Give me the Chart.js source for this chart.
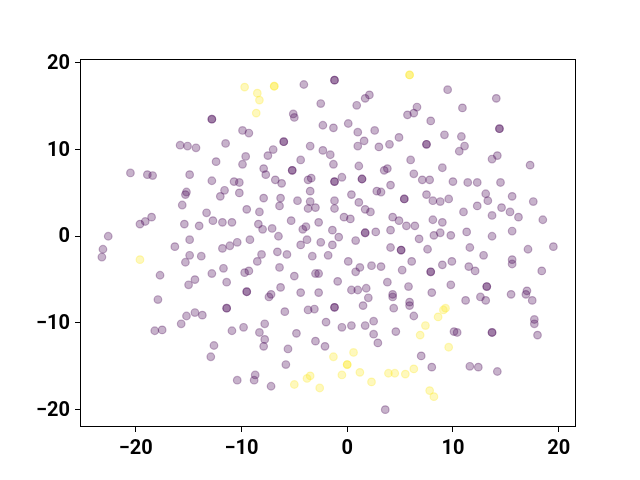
<!DOCTYPE html>
<html>
<head>
<meta charset="utf-8">
<script src="https://cdn.jsdelivr.net/npm/chart.js@4/dist/chart.umd.min.js"></script>
<style>
  html, body { margin: 0; padding: 0; background: #ffffff; }
  #c { display: block; }
</style>
</head>
<body>
<canvas id="c" width="640" height="480"></canvas>
<script>
// ---- data ----
const xTickValues = [-20, -10, 0, 10, 20];
const yTickValues = [-20, -10, 0, 10, 20];

const purplePoints = [
  [-12.8,13.5],[-12.8,13.5],[-9.9,12.2],[-9.3,11.9],[-11.5,10.7],[-15.8,10.5],[-15.1,10.4],[-14.3,10.2],
  [-9.6,9.2],[-12.4,8.6],[-9.9,8.3],[-20.5,7.3],[-18.9,7.1],[-18.4,7.0],[-14.9,7.1],[-12.8,6.4],[-10.7,6.3],[-10.2,6.2],
  [-4.1,17.5],[-1.2,18.0],[-1.2,18.0],[-2.5,15.3],[0.9,15.1],[1.7,15.9],[2.1,16.3],[-5.1,14.1],[-5.0,13.7],
  [5.7,14.0],[6.3,14.2],[-2.3,12.8],[-1.3,12.5],[0.1,13.0],[1.0,12.0],[2.6,12.2],[-6.0,10.9],[-6.0,10.9],
  [1.6,11.0],[1.0,10.4],[3.0,10.3],[4.0,10.6],[4.9,11.4],[-7.0,10.0],[-7.5,9.3],[-3.5,10.4],[-2.3,9.9],
  [-1.6,9.4],[-4.4,8.8],[-1.3,8.3],[6.0,8.8],[-7.9,7.8],[-7.7,7.1],[-5.2,7.6],[-5.2,7.6],[1.1,8.1],[3.5,7.6],
  [3.8,7.8],[6.3,7.2],[-6.8,6.5],[-3.7,6.5],[-3.4,6.7],[-1.2,6.3],[-1.2,6.3],[-0.5,6.8],[1.4,6.6],[1.4,6.6],
  [4.1,5.9],[-6.2,6.1],
  [9.5,16.9],[14.1,15.9],[6.6,14.9],[10.9,14.8],[7.9,13.3],[14.4,12.4],[14.4,12.4],[7.5,10.6],[7.5,10.6],
  [9.2,11.7],[10.8,11.5],[11.1,10.4],[10.6,9.8],[13.7,8.9],[14.2,9.3],[17.3,8.2],[9.0,7.9],[7.1,6.5],[7.8,6.5],
  [10.0,6.3],[11.4,6.2],[12.3,6.2],[14.5,6.2],
  [-15.2,5.1],[-15.3,4.8],[-11.6,5.3],[-12.0,4.6],[-10.2,5.0],[-15.6,3.6],[-9.5,3.1],[-13.3,2.7],[-18.5,2.2],
  [-19.1,1.7],[-19.6,1.4],[-15.4,1.4],[-14.0,1.2],[-12.7,1.8],[-11.8,1.6],[-10.9,1.6],[-22.6,0.0],[-23.1,-1.5],
  [-23.2,-2.4],[-14.9,-0.4],[-16.3,-1.2],[-14.9,-2.2],[-15.3,-3.0],[-13.8,-2.3],[-11.8,-1.4],[-11.1,-1.1],
  [-10.4,-0.7],[-9.2,-0.4],[-11.7,-3.7],[-12.8,-4.3],[-11.4,-5.3],[-9.7,-4.2],[-9.3,-4.0],[-17.7,-4.5],
  [-14.4,-5.0],[-15.0,-5.6],[-9.5,-6.4],[-9.5,-6.4],[-17.9,-7.3],
  [-3.5,5.2],[0.4,4.8],[2.8,5.2],[3.2,5.1],[5.4,4.3],[5.4,4.3],[-7.9,4.4],[-6.3,4.4],[-6.4,3.5],[-4.7,4.1],
  [-3.5,4.0],[-3.7,3.2],[-3.0,3.3],[-1.2,4.1],[-1.2,3.2],[1.1,3.9],[1.7,3.1],[2.2,2.8],[-8.3,2.8],[-8.4,1.4],
  [-8.0,0.8],[-7.1,0.9],[-5.3,1.8],[-4.2,0.8],[-3.9,1.1],[-2.7,1.6],[-0.3,2.2],[0.3,2.0],[-1.4,0.7],[1.7,0.4],
  [1.7,0.4],[2.7,0.5],[4.3,2.2],[4.9,1.8],[5.6,1.2],[4.1,0.7],[-6.5,0.0],[-3.8,-0.4],[-4.4,-1.0],[-2.5,-0.7],
  [-0.8,-0.1],[-1.4,-1.0],[0.8,-0.5],[5.1,-1.6],[5.1,-1.6],[4.1,-1.3],[-6.6,-1.8],[-5.7,-2.1],[-8.1,-2.1],
  [-8.5,-2.9],[-3.3,-2.3],[-1.8,-2.2],[0.1,-2.9],[1.2,-3.6],[0.8,-4.1],[2.3,-3.4],[3.2,-3.5],[5.2,-3.9],
  [-6.4,-3.6],[-5.0,-4.6],[-3.0,-4.3],[-2.7,-4.3],[-0.9,-5.2],[3.8,-5.3],[5.8,-5.8],[-6.3,-5.9],[-4.4,-6.5],
  [-2.7,-6.5],[0.4,-6.2],[1.0,-6.2],[1.8,-6.0],[2.0,-7.1],[4.3,-6.7],[4.3,-7.0],[-7.2,-6.7],[-7.4,-7.0],[5.9,-7.6],
  [7.5,4.8],[8.1,4.1],[8.8,4.0],[9.6,4.3],[13.1,4.9],[13.3,4.1],[15.6,4.6],[17.6,4.0],[11.0,2.8],[12.3,3.5],
  [14.6,3.3],[15.4,2.8],[16.2,2.2],[13.7,2.4],[18.5,1.9],[6.4,1.2],[8.1,1.9],[9.0,1.6],[8.8,0.4],[8.2,0.1],
  [6.8,-0.3],[9.8,0.1],[11.3,0.5],[13.7,0.0],[15.6,0.6],[7.6,-1.5],[11.6,-1.3],[12.9,-2.2],[17.1,-1.5],
  [19.5,-1.2],[6.1,-2.9],[9.0,-3.3],[9.9,-2.9],[11.5,-3.5],[12.1,-4.0],[15.6,-2.7],[15.6,-3.2],[18.4,-4.0],
  [7.9,-4.1],[7.9,-4.1],[8.0,-6.5],[9.8,-5.6],[13.2,-5.8],[13.2,-5.8],[12.6,-7.0],[13.1,-7.4],[11.2,-7.4],
  [15.5,-6.7],[17.0,-6.3],[16.9,-6.7],[17.5,-7.4],
  [-11.4,-8.3],[-11.4,-8.3],[-15.2,-9.2],[-14.4,-8.8],[-13.7,-9.1],[-15.7,-10.1],[-18.2,-10.9],[-17.5,-10.8],
  [-10.9,-10.9],[-9.8,-10.5],[-12.6,-12.6],[-12.9,-13.9],[-10.4,-16.6],
  [-5.9,-8.7],[-3.7,-8.5],[-3.1,-8.4],[-1.2,-8.2],[-1.2,-8.2],[1.5,-8.0],[4.4,-8.3],[5.9,-8.0],[6.3,-9.2],
  [-7.8,-10.1],[-8.3,-11.1],[-7.8,-11.9],[-7.9,-12.7],[-4.8,-11.2],[-2.0,-9.9],[-0.5,-10.5],[0.4,-10.3],
  [1.7,-10.3],[2.5,-9.8],[2.5,-11.3],[2.9,-12.3],[4.6,-11.0],[-3.0,-12.1],[-2.1,-12.7],[-5.6,-13.0],
  [-5.8,-14.8],[-8.7,-16.0],[-8.8,-16.6],[-7.2,-17.3],[3.6,-20.0],
  [10.1,-11.0],[10.4,-11.1],[13.7,-11.1],[13.7,-11.1],[17.7,-9.6],[17.7,-10.1],[18.0,-11.4],[7.0,-13.8],
  [8.0,-15.1],[11.6,-15.0],[12.4,-15.1],[14.2,-15.6]
];

const yellowPoints = [
  [-9.7,17.2],[-6.9,17.3],[-6.9,17.3],[5.9,18.6],[5.9,18.6],[-8.5,16.5],[-8.3,15.7],[-8.6,14.2],[-19.6,-2.7],
  [-1.3,-13.9],[0.6,-13.4],[0.0,-14.8],[0.0,-14.8],[-0.5,-16.0],[1.2,-15.7],[2.3,-16.8],[3.9,-15.8],[4.5,-15.8],
  [5.5,-15.9],[6.3,-15.3],[-5.0,-17.1],[-3.8,-16.4],[-3.5,-16.1],[-2.6,-17.5],[9.1,-8.5],[9.3,-8.3],[8.6,-9.3],
  [7.4,-10.3],[6.9,-11.4],[9.6,-12.8],[7.8,-17.8],[8.2,-18.5]
];

const xLimits = [-25.27, 21.64];
const yLimits = [-22.0, 20.44];

// ---- chart ----
const toXY = arr => arr.map(p => ({ x: p[0], y: p[1] }));
const fmt = v => String(v).replace('-', '\u2212');
const tickFont = { family: 'Roboto', size: 20, weight: 'bold' };

const frame = {
  id: 'frame',
  afterDraw(chart) {
    const a = chart.chartArea, ctx = chart.ctx;
    ctx.save();
    ctx.strokeStyle = '#000';
    ctx.lineWidth = 1;
    ctx.strokeRect(Math.round(a.left) + 0.5, Math.round(a.top) + 0.5,
                   Math.round(a.right - a.left) - 1, Math.round(a.bottom - a.top) - 1);
    ctx.restore();
  }
};

new Chart(document.getElementById('c'), {
  type: 'scatter',
  data: {
    datasets: [
      { data: toXY(purplePoints), backgroundColor: 'rgba(68,1,84,0.3)', borderColor: 'rgba(68,1,84,0.3)',
        borderWidth: 1.2, pointRadius: 3.8, pointHoverRadius: 3.8 },
      { data: toXY(yellowPoints), backgroundColor: 'rgba(253,231,37,0.3)', borderColor: 'rgba(253,231,37,0.3)',
        borderWidth: 1.2, pointRadius: 3.8, pointHoverRadius: 3.8 }
    ]
  },
  options: {
    responsive: false,
    animation: false,
    devicePixelRatio: 1,
    layout: { padding: { top: 59, right: 64, left: 0, bottom: 0 } },
    plugins: { legend: { display: false }, tooltip: { enabled: false } },
    scales: {
      x: {
        type: 'linear', min: xLimits[0], max: xLimits[1],
        afterBuildTicks: s => { s.ticks = xTickValues.map(v => ({ value: v })); },
        afterFit: s => { s.height = 53; },
        grid: { drawOnChartArea: false, drawTicks: true, tickLength: 5, color: '#000', lineWidth: 1 },
        border: { display: false },
        ticks: { color: '#000', font: tickFont, padding: 5, maxRotation: 0, callback: v => fmt(v) }
      },
      y: {
        type: 'linear', min: yLimits[0], max: yLimits[1],
        afterBuildTicks: s => { s.ticks = yTickValues.map(v => ({ value: v })); },
        afterFit: s => { s.width = 80; },
        grid: { drawOnChartArea: false, drawTicks: true, tickLength: 5, color: '#000', lineWidth: 1 },
        border: { display: false },
        ticks: { color: '#000', font: tickFont, padding: 5, labelOffset: 1, callback: v => fmt(v) }
      }
    }
  },
  plugins: [frame]
});
</script>
</body>
</html>
